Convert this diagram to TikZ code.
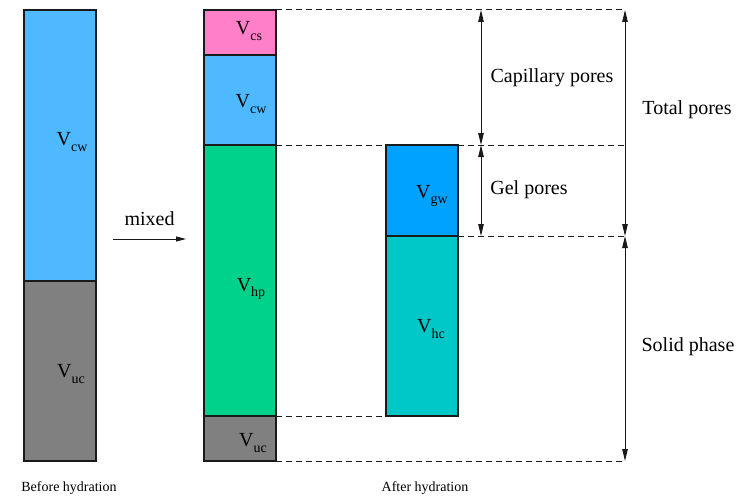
\documentclass[tikz,border=0pt]{standalone}
\usepackage{fontspec}
\setmainfont{Liberation Serif}
\usetikzlibrary{positioning, arrows.meta, calc}
\definecolor{PoreWater}{HTML}{4FB9FF}
\definecolor{PoreShrink}{HTML}{FF80C8}
\definecolor{HydProduct}{HTML}{00D18B}
\definecolor{Unreacted}{HTML}{808080}
\definecolor{GelWater}{HTML}{00A2FF}
\definecolor{HydCement}{HTML}{00C8C8}
\definecolor{LineInk}{HTML}{1A1A1A}
\newcommand{\vol}[1]{V\raisebox{-0.55ex}{\fontsize{14}{14}\selectfont #1}}
\tikzset{
  phase/.style    = {draw=LineInk, line width=1.2pt, anchor=north west,
                     minimum width=72pt, inner sep=0pt, outer sep=0pt},
  phaselbl/.style = {font=\fontsize{20}{20}\selectfont, inner sep=0pt},
  guide/.style    = {LineInk, line width=1pt, dash pattern=on 6pt off 4pt},
  dimarr/.style   = {{Triangle[length=12pt, width=5.5pt]}-{Triangle[length=12pt, width=5.5pt]},
                     LineInk, line width=1pt},
  flowarr/.style  = {-{Triangle[length=10pt, width=5pt]}, LineInk, line width=1pt},
  dimlbl/.style   = {font=\fontsize{20}{20}\selectfont, inner sep=0pt},
  caplbl/.style   = {font=\fontsize{14}{14}\selectfont, inner sep=0pt},
}
\begin{document}
\begin{tikzpicture}[x=1pt, y=-1pt]
  \useasboundingbox (0,0) rectangle (743,500);
  % before hydration
  \node[phase, fill=PoreWater, minimum height=271pt] (cw0) at (24,10) {};
  \node[phase, fill=Unreacted, minimum height=180pt] (uc0) at (24,281) {};
  \node[phaselbl] (cw0l) at (72,142) {\vol{cw}};
  \node[phaselbl] (uc0l) at (71,374) {\vol{uc}};
  \node[caplbl] (before) at (69,488) {Before hydration};
  % mixing
  \coordinate (mixa) at (113,239);
  \coordinate (mixb) at (186,239);
  \draw[flowarr] (mixa) -- (mixb);
  \node[dimlbl, above=13pt of $(mixa)!0.5!(mixb)$] (mixed) {mixed};
  % after hydration
  \node[phase, fill=PoreShrink, minimum height=45pt] (cs) at (204,10) {};
  \node[phase, fill=PoreWater, minimum height=90pt] (cw) at (204,55) {};
  \node[phase, fill=HydProduct, minimum height=271pt] (hp) at (204,145) {};
  \node[phase, fill=Unreacted, minimum height=45pt] (uc) at (204,416) {};
  \node[phase, fill=GelWater, minimum height=91pt] (gw) at (386,145) {};
  \node[phase, fill=HydCement, minimum height=180pt] (hc) at (386,236) {};
  \node[phaselbl] (csl) at (249,31) {\vol{cs}};
  \node[phaselbl] (cwl) at (251,104) {\vol{cw}};
  \node[phaselbl] (hpl) at (251,289) {\vol{hp}};
  \node[phaselbl] (ucl) at (253,443) {\vol{uc}};
  \node[phaselbl] (gwl) at (432,196) {\vol{gw}};
  \node[phaselbl] (hcl) at (431,329) {\vol{hc}};
  \node[caplbl] (after) at (425,488) {After hydration};
  % guide lines
  \coordinate (topR) at (625,10);
  \coordinate (gelR) at (625,145);
  \coordinate (solR) at (625,236);
  \coordinate (botR) at (625,461);
  \draw[guide] (cs.north east) -- (topR);
  \draw[guide] (hp.north east) -- (gw.north west);
  \draw[guide] (gw.north east) -- (gelR);
  \draw[guide] (hc.north east) -- (solR);
  \draw[guide] (uc.north east) -- (hc.south west);
  \draw[guide] (uc.south east) -- (botR);
  % dimensions
  \coordinate (capT) at (481,10);
  \coordinate (capB) at (481,145);
  \coordinate (gelB) at (481,236);
  \draw[dimarr] (capT) -- (capB);
  \draw[dimarr] (capB) -- (gelB);
  \draw[dimarr] (topR) -- (solR);
  \draw[dimarr] (solR) -- (botR);
  \node[dimlbl] (capl) at (552,78) {Capillary pores};
  \node[dimlbl] (gell) at (529,190) {Gel pores};
  \node[dimlbl] (totl) at (687,110) {Total pores};
  \node[dimlbl] (soll) at (688,347) {Solid phase};
\end{tikzpicture}
\end{document}
